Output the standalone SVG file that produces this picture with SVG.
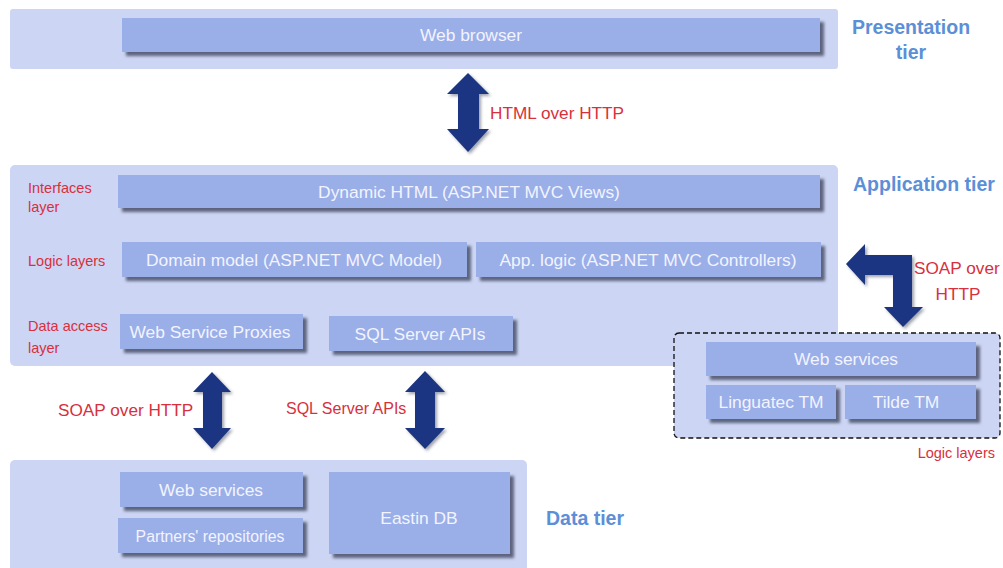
<svg xmlns="http://www.w3.org/2000/svg" width="1003" height="568" viewBox="0 0 1003 568">
<defs>
<filter id="sh" x="-10%" y="-30%" width="120%" height="170%">
<feGaussianBlur in="SourceAlpha" stdDeviation="1.5"/>
<feOffset dx="4" dy="4" result="o"/>
<feFlood flood-color="#4a5068" flood-opacity="0.85"/>
<feComposite in2="o" operator="in"/>
<feMerge><feMergeNode/><feMergeNode in="SourceGraphic"/></feMerge>
</filter>
<filter id="ash" x="-30%" y="-20%" width="160%" height="140%">
<feGaussianBlur in="SourceAlpha" stdDeviation="1.5"/>
<feOffset dx="2" dy="2" result="o"/>
<feFlood flood-color="#404860" flood-opacity="0.5"/>
<feComposite in2="o" operator="in"/>
<feMerge><feMergeNode/><feMergeNode in="SourceGraphic"/></feMerge>
</filter>
</defs>
<style>
.panel{fill:#ccd5f4}
.box{fill:#9aaee8;filter:url(#sh)}
.bt{font-family:"Liberation Sans",Arial,sans-serif;font-size:17.4px;fill:#f2f4ff;text-anchor:middle;dominant-baseline:central}
.red{font-family:"Liberation Sans",Arial,sans-serif;font-size:14.5px;fill:#d8303c}
.redl{font-family:"Liberation Sans",Arial,sans-serif;font-size:17.2px;fill:#d8303c}
.tier{font-family:"Liberation Sans",Arial,sans-serif;font-size:19.5px;font-weight:bold;fill:#5b8fd8}
.arr{fill:#1c3682;filter:url(#ash)}
</style>
<rect width="1003" height="568" fill="#ffffff"/>

<g id="presentation-tier">
<rect class="panel" x="10" y="9" width="828" height="60" rx="3"/>
<text class="tier" x="911" y="34" text-anchor="middle">Presentation</text>
<text class="tier" x="911" y="59" text-anchor="middle">tier</text>
</g>
<g id="web-browser">
<rect class="box" x="122" y="18" width="698" height="34"/>
<text class="bt" x="471" y="35">Web browser</text>
</g>

<g id="application-tier">
<rect class="panel" x="10" y="165" width="828" height="201" rx="5"/>
<text class="tier" x="853" y="191">Application tier</text>
<text class="red" x="28" y="193">Interfaces</text>
<text class="red" x="28" y="212">layer</text>
<text class="red" x="28" y="266">Logic layers</text>
<text class="red" x="28" y="331">Data access</text>
<text class="red" x="28" y="353">layer</text>
</g>
<g id="dynamic-html">
<rect class="box" x="118" y="175" width="702" height="33"/>
<text class="bt" x="469" y="192">Dynamic HTML (ASP.NET MVC Views)</text>
</g>
<g id="domain-model">
<rect class="box" x="122" y="242" width="345" height="35"/>
<text class="bt" x="294" y="260">Domain model (ASP.NET MVC Model)</text>
</g>
<g id="app-logic">
<rect class="box" x="476" y="242" width="345" height="35"/>
<text class="bt" x="648" y="260">App. logic (ASP.NET MVC Controllers)</text>
</g>
<g id="web-service-proxies">
<rect class="box" x="120" y="314" width="183" height="35"/>
<text class="bt" x="210" y="332">Web Service Proxies</text>
</g>
<g id="sql-server-apis">
<rect class="box" x="329" y="316" width="184" height="35"/>
<text class="bt" x="420" y="334">SQL Server APIs</text>
</g>

<g id="external-logic">
<rect x="674" y="333" width="326" height="105" rx="5" fill="#ccd5f4" stroke="#111" stroke-width="1.3" stroke-dasharray="5,3"/>
<text class="red" x="995" y="458" text-anchor="end">Logic layers</text>
</g>
<g id="ext-web-services">
<rect class="box" x="706" y="342" width="270" height="34"/>
<text class="bt" x="846" y="359">Web services</text>
</g>
<g id="linguatec-tm">
<rect class="box" x="706" y="385" width="130" height="34"/>
<text class="bt" x="771" y="402">Linguatec TM</text>
</g>
<g id="tilde-tm">
<rect class="box" x="845" y="385" width="131" height="34"/>
<text class="bt" x="906" y="402">Tilde TM</text>
</g>

<g id="data-tier">
<rect class="panel" x="10" y="460" width="517" height="120" rx="5"/>
<text class="tier" x="546" y="525">Data tier</text>
</g>
<g id="data-web-services">
<rect class="box" x="120" y="472" width="183" height="35"/>
<text class="bt" x="211" y="490">Web services</text>
</g>
<g id="partners-repositories">
<rect class="box" x="118" y="518" width="185" height="35"/>
<text class="bt" x="210" y="536" style="font-size:15.8px">Partners' repositories</text>
</g>
<g id="eastin-db">
<rect class="box" x="329" y="472" width="181" height="82"/>
<text class="bt" x="419" y="518">Eastin DB</text>
</g>

<g id="connectors">
<path class="arr" d="M468,73 L489,94 L479,94 L479,129 L489,129 L468,152 L447,129 L458,129 L458,94 L447,94 Z"/>
<text class="redl" x="490" y="119">HTML over HTTP</text>

<path class="arr" d="M212,372 L231,392 L222,392 L222,428 L231,428 L212,449 L193,428 L203,428 L203,392 L193,392 Z"/>
<text class="redl" x="58" y="416">SOAP over HTTP</text>

<path class="arr" d="M425,371 L445,392 L435,392 L435,428 L445,428 L425,449 L405,428 L415,428 L415,392 L405,392 Z"/>
<text class="redl" x="286" y="414" style="font-size:16px">SQL Server APIs</text>

<path class="arr" d="M846,264 L865,244 L865,255 L912,255 L912,307 L923,307 L903,327 L884,307 L893,307 L893,275 L865,275 L865,285 Z"/>
<text class="redl" x="914" y="274">SOAP over</text>
<text class="redl" x="958" y="300" text-anchor="middle">HTTP</text>
</g>
</svg>
